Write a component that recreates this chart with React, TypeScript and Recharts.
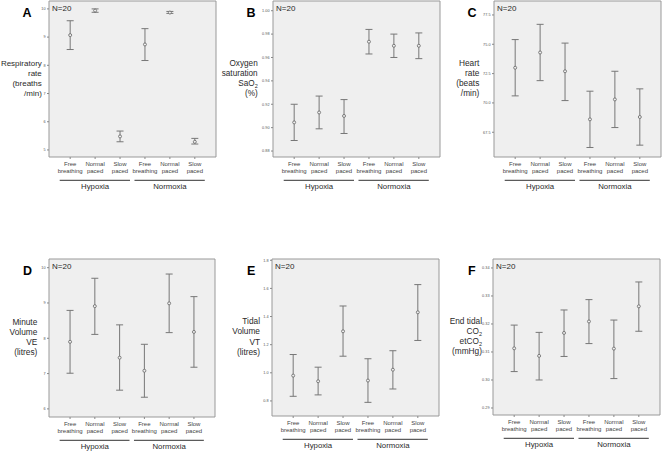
import React from "react";
import { LineChart, Line, XAxis, YAxis, ErrorBar, ReferenceArea } from "recharts";

const catTop = ["Free", "Normal", "Slow", "Free", "Normal", "Slow"];
const catBottom = ["breathing", "paced", "paced", "breathing", "paced", "paced"];
const groups = ["Hypoxia", "Normoxia"];
const nLabel = "N=20";

// A - respiratory rate
const respMean = [9.07, 9.94, 5.48, 8.74, 9.87, 5.29];
const respUpper = [9.58, 10.0, 5.67, 9.3, 9.91, 5.41];
const respLower = [8.56, 9.88, 5.29, 8.17, 9.84, 5.21];
const respTicks = [5, 6, 7, 8, 9, 10];

// B - oxygen saturation
const satMean = [0.9045, 0.913, 0.91, 0.9735, 0.97, 0.97];
const satUpper = [0.92, 0.927, 0.924, 0.984, 0.98, 0.981];
const satLower = [0.889, 0.899, 0.895, 0.963, 0.96, 0.959];
const satTicks = [0.88, 0.9, 0.92, 0.94, 0.96, 0.98, 1.0];

// C - heart rate
const hrMean = [73.0, 74.3, 72.7, 68.6, 70.3, 68.8];
const hrUpper = [75.4, 76.7, 75.1, 71.0, 72.7, 71.2];
const hrLower = [70.6, 71.9, 70.2, 66.2, 67.9, 66.4];
const hrTicks = [67.5, 70, 72.5, 75, 77.5];

// D - minute volume
const veMean = [7.9, 8.91, 7.45, 7.08, 8.99, 8.18];
const veUpper = [8.79, 9.7, 8.38, 7.83, 9.82, 9.18];
const veLower = [7.01, 8.11, 6.53, 6.33, 8.16, 7.18];
const veTicks = [6, 7, 8, 9, 10];

// E - tidal volume
const vtMean = [0.98, 0.94, 1.295, 0.945, 1.022, 1.43];
const vtUpper = [1.13, 1.04, 1.475, 1.1, 1.157, 1.627];
const vtLower = [0.833, 0.843, 1.118, 0.79, 0.885, 1.23];
const vtTicks = [0.8, 1.0, 1.2, 1.4, 1.6, 1.8];

// F - end tidal CO2
const co2Mean = [0.3113, 0.3086, 0.3168, 0.3209, 0.3112, 0.3263];
const co2Upper = [0.3196, 0.317, 0.325, 0.3287, 0.3214, 0.335];
const co2Lower = [0.303, 0.3, 0.3084, 0.313, 0.3005, 0.3174];
const co2Ticks = [0.29, 0.3, 0.31, 0.32, 0.33, 0.34];

const FONT = "'Liberation Sans', Arial, sans-serif";
const CELL_W = 221;
const CELL_H = 226;
const AXIS_H = 35;
const X_DOMAIN: [number, number] = [-0.85, 5.85];

type Seg = [string, boolean];

type PanelCfg = {
  letter: string;
  cellX: number;
  cellY: number;
  box: [number, number, number, number]; // left, top, right, bottom in cell coords
  letterX: number;
  labelRight: number;
  labelSize: number;
  yLines: Seg[][];
  domain: [number, number];
  ticks: number[];
  digits: number;
  mean: number[];
  upper: number[];
  lower: number[];
};

const panels: PanelCfg[] = [
  {
    letter: "A", cellX: 0, cellY: 0, box: [49, 1, 216, 157], letterX: 22.5, labelRight: 41.8, labelSize: 8,
    yLines: [[["Respiratory", false]], [["rate", false]], [["(breaths", false]], [["/min)", false]]],
    domain: [4.75, 10.28], ticks: respTicks, digits: 0, mean: respMean, upper: respUpper, lower: respLower,
  },
  {
    letter: "B", cellX: 221, cellY: 0, box: [52, 1, 219, 157], letterX: 25.5, labelRight: 36.7, labelSize: 8.2,
    yLines: [[["Oxygen", false]], [["saturation", false]], [["SaO", false], ["2", true]], [["(%)", false]]],
    domain: [0.8749, 1.0083], ticks: satTicks, digits: 2, mean: satMean, upper: satUpper, lower: satLower,
  },
  {
    letter: "C", cellX: 442, cellY: 0, box: [52, 1, 219, 157], letterX: 25.5, labelRight: 37.3, labelSize: 8.3,
    yLines: [[["Heart", false]], [["rate", false]], [["(beats", false]], [["/min)", false]]],
    domain: [65.39, 78.69], ticks: hrTicks, digits: 1, mean: hrMean, upper: hrUpper, lower: hrLower,
  },
  {
    letter: "D", cellX: 0, cellY: 226, box: [49, 33, 215, 191], letterX: 23, labelRight: 37.3, labelSize: 8.3,
    yLines: [[["Minute", false]], [["Volume", false]], [["VE", false]], [["(litres)", false]]],
    domain: [5.77, 10.246], ticks: veTicks, digits: 0, mean: veMean, upper: veUpper, lower: veLower,
  },
  {
    letter: "E", cellX: 221, cellY: 226, box: [51, 33, 218, 190], letterX: 26, labelRight: 39, labelSize: 8.3,
    yLines: [[["Tidal", false]], [["Volume", false]], [["VT", false]], [["(litres)", false]]],
    domain: [0.693, 1.809], ticks: vtTicks, digits: 1, mean: vtMean, upper: vtUpper, lower: vtLower,
  },
  {
    letter: "F", cellX: 442, cellY: 226, box: [51, 33, 218, 189], letterX: 26, labelRight: 40, labelSize: 8.3,
    yLines: [[["End tidal", false]], [["CO", false], ["2", true]], [["etCO", false], ["2", true]], [["(mmHg)", false]]],
    domain: [0.2875, 0.3432], ticks: co2Ticks, digits: 2, mean: co2Mean, upper: co2Upper, lower: co2Lower,
  },
];

const CatTick = (props: any) => {
  const { x, y, payload, spacing } = props;
  const i = payload.value as number;
  return (
    <g fontFamily={FONT}>
      <text x={x} y={y + 7} textAnchor="middle" fontSize={6} fill="#444">{catTop[i]}</text>
      <text x={x} y={y + 14} textAnchor="middle" fontSize={6} fill="#444">{catBottom[i]}</text>
      {i % 3 === 1 && (
        <g>
          <line x1={x - spacing * 1.42} x2={x + spacing * 1.4} y1={y + 21.3} y2={y + 21.3} stroke="#333" strokeWidth={1} />
          <text x={x} y={y + 30} textAnchor="middle" fontSize={7.8} fill="#2a2a2a">{groups[(i - 1) / 3]}</text>
        </g>
      )}
    </g>
  );
};

const PanelText = ({ cfg }: { cfg: PanelCfg }) => {
  const [l, t, , b] = cfg.box;
  const lh = 10.3;
  const mid = (t + b) / 2 - 1;
  const first = mid - (lh * (cfg.yLines.length - 1)) / 2 + 3;
  return (
    <g fontFamily={FONT}>
      <text x={cfg.letterX} y={t + 16.3} fontSize={12.5} fontWeight="bold" fill="#000">{cfg.letter}</text>
      <text x={l + 3} y={t + 10} fontSize={8} fill="#2a2a2a">{nLabel}</text>
      {cfg.yLines.map((line, k) => (
        <text key={k} x={cfg.labelRight} y={first + k * lh} textAnchor="end" fontSize={cfg.labelSize} fill="#2a2a2a">
          {line.map(([s, sub], j) => (
            <tspan key={j} fontSize={sub ? 5.5 : cfg.labelSize} dy={sub ? 2 : 0}>{s}</tspan>
          ))}
        </text>
      ))}
    </g>
  );
};

const Panel = ({ cfg }: { cfg: PanelCfg }) => {
  const [l, t, r, b] = cfg.box;
  const data = cfg.mean.map((m, i) => ({
    idx: i,
    mean: m,
    err: [m - cfg.lower[i], cfg.upper[i] - m],
  }));
  const spacing = (r - l) / (X_DOMAIN[1] - X_DOMAIN[0]);
  return (
    <div style={{ position: "absolute", left: cfg.cellX, top: cfg.cellY }}>
      <LineChart
        width={CELL_W}
        height={CELL_H}
        data={data}
        margin={{ top: t, right: CELL_W - r, bottom: CELL_H - b - AXIS_H, left: 0 }}
      >
        <ReferenceArea
          x1={X_DOMAIN[0]}
          x2={X_DOMAIN[1]}
          y1={cfg.domain[0]}
          y2={cfg.domain[1]}
          fill="#efefef"
          fillOpacity={1}
          stroke="#999"
          strokeWidth={1}
          ifOverflow="visible"
        />
        <XAxis
          type="number"
          dataKey="idx"
          domain={X_DOMAIN}
          ticks={[0, 1, 2, 3, 4, 5]}
          interval={0}
          height={AXIS_H}
          axisLine={false}
          tickSize={2}
          tickMargin={0}
          stroke="#888"
          allowDataOverflow
          tick={(p: any) => <CatTick {...p} spacing={spacing} />}
        />
        <YAxis
          type="number"
          domain={cfg.domain}
          ticks={cfg.ticks}
          interval={0}
          width={l}
          axisLine={false}
          tickSize={2}
          tickMargin={1.5}
          stroke="#888"
          allowDataOverflow
          tick={{ fontSize: 3.8, fill: "#555", fontFamily: FONT }}
          tickFormatter={(v: number) => v.toFixed(cfg.digits)}
          label={() => <PanelText cfg={cfg} />}
        />
        <Line
          dataKey="mean"
          stroke="none"
          isAnimationActive={false}
          dot={{ r: 1.5, fill: "#efefef", stroke: "#666", strokeWidth: 0.8 }}
          activeDot={false}
        >
          <ErrorBar dataKey="err" width={3.5} stroke="#777" strokeWidth={1} direction="y" />
        </Line>
      </LineChart>
    </div>
  );
};

export default function App() {
  return (
    <div style={{ position: "absolute", left: 0, top: 0, width: 663, height: 452, background: "#fff" }}>
      {panels.map((cfg) => (
        <Panel key={cfg.letter} cfg={cfg} />
      ))}
    </div>
  );
}
